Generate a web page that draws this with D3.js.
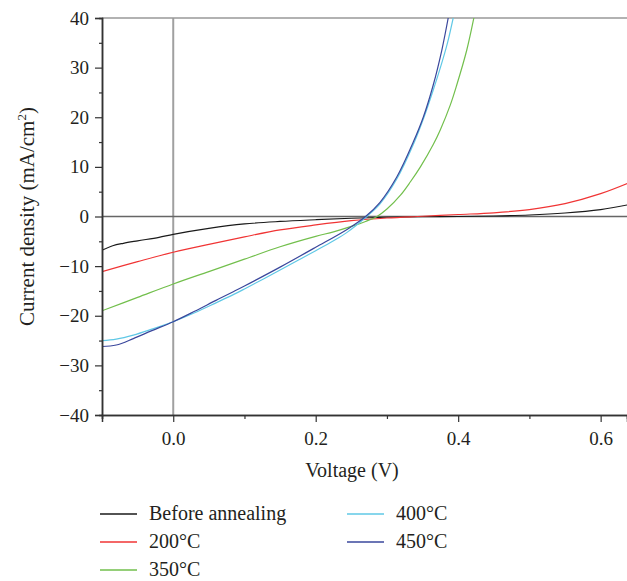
<!DOCTYPE html>
<html lang="en">
<head>
<meta charset="UTF-8">
<script src="https://d3js.org/d3.v7.min.js"></script>
<title></title>
<style>
	body { margin: 0; background: #fff; }
	text { font-family: "Liberation Serif", "Times New Roman", serif; fill: #231f20; }
</style>
</head>
<body>
<svg width="627" height="581"></svg>
<script>
	// J-V curves, [voltage (V), current density (mA/cm2)]
	var beforeAnnealing = [[-0.1,-6.8],[-0.085,-5.9],[-0.07,-5.4],[-0.05,-4.9],[-0.02,-4.2],[0,-3.6],[0.05,-2.4],[0.1,-1.5],[0.15,-1.0],[0.2,-0.65],[0.25,-0.35],[0.3,-0.15],[0.35,-0.05],[0.4,0],[0.45,0.1],[0.5,0.3],[0.55,0.7],[0.6,1.4],[0.64,2.4]];
	var t200 = [[-0.1,-11.1],[-0.05,-9.1],[0,-7.2],[0.05,-5.6],[0.1,-4.1],[0.15,-2.7],[0.2,-1.7],[0.25,-0.85],[0.3,-0.3],[0.35,0.05],[0.4,0.4],[0.45,0.75],[0.5,1.4],[0.55,2.6],[0.6,4.6],[0.64,6.8]];
	var t350 = [[-0.1,-19.0],[-0.05,-16.3],[0,-13.6],[0.05,-11.1],[0.1,-8.6],[0.15,-6.1],[0.2,-4.0],[0.225,-3.1],[0.25,-2.0],[0.27,-1.0],[0.286,0],[0.3,1.5],[0.319,4.3],[0.333,7],[0.347,10],[0.365,14.5],[0.375,17.5],[0.389,22.5],[0.398,26.5],[0.412,33.5],[0.422,40],[0.43,46]];
	var t400 = [[-0.1,-25.0],[-0.08,-24.7],[-0.056,-23.9],[-0.03,-22.7],[0,-21.2],[0.03,-19.4],[0.06,-17.4],[0.085,-15.7],[0.1,-14.6],[0.15,-10.8],[0.178,-8.6],[0.2,-6.9],[0.225,-4.9],[0.244,-3.2],[0.27,-0.2],[0.29,2.5],[0.314,7.6],[0.337,14.5],[0.352,20],[0.365,25.5],[0.375,30],[0.385,35],[0.393,40],[0.4,45]];
	var t450 = [[-0.1,-26.2],[-0.08,-25.9],[-0.056,-24.6],[-0.03,-23.0],[0,-21.2],[0.03,-19.1],[0.06,-16.9],[0.085,-15.1],[0.1,-14.0],[0.15,-10.2],[0.2,-6.2],[0.244,-2.6],[0.27,0],[0.29,2.8],[0.314,8.0],[0.337,15],[0.351,20],[0.365,26.5],[0.377,33.5],[0.386,40],[0.392,45]];

	var seriesNames = ["Before annealing", "200°C", "350°C", "400°C", "450°C"];
	var seriesData = [beforeAnnealing, t200, t350, t400, t450];
	var seriesColors = ["#1a1a1a", "#f03434", "#72bf4c", "#5fc8e6", "#3a479c"];

	var xTicks = [0.0, 0.2, 0.4, 0.6];
	var xMinorTicks = [-0.1, 0.1, 0.3, 0.5];
	var yTicks = [40, 30, 20, 10, 0, -10, -20, -30, -40];
	var yMinorTicks = [35, 25, 15, 5, -5, -15, -25, -35];

	var svg = d3.select('svg');
	var pLeft = 102, pRight = 627, pTop = 18, pBottom = 415;

	var x = d3.scaleLinear().domain([-0.1, 0.637]).range([pLeft, pRight]);
	var y = d3.scaleLinear().domain([-40, 40]).range([pBottom, pTop]);

	svg.append('defs').append('clipPath').attr('id', 'plot')
		.append('rect').attr('x', pLeft).attr('y', pTop).attr('width', pRight - pLeft).attr('height', pBottom - pTop);

	// zero lines
	svg.append('line')
		.attr('x1', x(0)).attr('x2', x(0)).attr('y1', pTop).attr('y2', pBottom)
		.attr('stroke', '#a0a0a0').attr('stroke-width', 2);
	svg.append('line')
		.attr('x1', pLeft).attr('x2', pRight).attr('y1', y(0)).attr('y2', y(0))
		.attr('stroke', '#666').attr('stroke-width', 1.5);

	// top frame
	svg.append('line')
		.attr('x1', pLeft).attr('x2', pRight).attr('y1', pTop).attr('y2', pTop)
		.attr('stroke', '#999').attr('stroke-width', 1.5);

	var line = d3.line()
		.x(function(d){ return x(d[0]); })
		.y(function(d){ return y(d[1]); })
		.curve(d3.curveCatmullRom.alpha(0.5));

	svg.append('g').attr('clip-path', 'url(#plot)')
		.selectAll('path')
		.data(seriesData)
		.enter()
		.append('path')
		.attr('d', line)
		.attr('fill', 'none')
		.attr('stroke', function(d, i){ return seriesColors[i]; })
		.attr('stroke-width', 1.2);

	// axes
	svg.append('g').attr('transform', 'translate(' + pLeft + ',0)')
		.call(d3.axisLeft(y).tickValues(yTicks).tickSize(7).tickPadding(6)
			.tickFormat(function(d){ return d < 0 ? '\u2212' + Math.abs(d) : d; }));
	svg.append('g').attr('transform', 'translate(' + pLeft + ',0)')
		.call(d3.axisLeft(y).tickValues(yMinorTicks).tickSize(3).tickFormat(''));

	svg.append('g').attr('transform', 'translate(0,' + pBottom + ')')
		.call(d3.axisBottom(x).tickValues(xTicks).tickSize(7).tickPadding(10).tickFormat(d3.format('.1f')));
	svg.append('g').attr('transform', 'translate(0,' + pBottom + ')')
		.call(d3.axisBottom(x).tickValues(xMinorTicks).tickSize(4).tickFormat(''));

	svg.selectAll('.domain').attr('stroke', '#333').attr('stroke-width', 1.5);
	svg.selectAll('.tick line').attr('stroke', '#333').attr('stroke-width', 1.2);
	svg.selectAll('.tick text').style('font-family', '"Liberation Serif", serif').style('font-size', '19px').attr('fill', '#231f20');

	// axis titles
	svg.append('text')
		.attr('x', 352).attr('y', 477)
		.attr('text-anchor', 'middle').style('font-size', '20px')
		.text('Voltage (V)');

	var yl = svg.append('text')
		.attr('transform', 'translate(34,' + (y(0)) + ') rotate(-90)')
		.attr('text-anchor', 'middle').style('font-size', '21px');
	yl.append('tspan').text('Current density (mA/cm');
	yl.append('tspan').attr('dy', -8).style('font-size', '13px').text('2');
	yl.append('tspan').attr('dy', 8).text(')');

	// legend
	var legendPos = [[100, 514], [100, 542], [100, 570], [347, 514], [347, 542]];
	var legend = svg.append('g').selectAll('g')
		.data(seriesNames)
		.enter()
		.append('g')
		.attr('transform', function(d, i){ return 'translate(' + legendPos[i][0] + ',' + legendPos[i][1] + ')'; });
	legend.append('line')
		.attr('x1', 0).attr('x2', 37).attr('y1', 0).attr('y2', 0)
		.attr('stroke', function(d, i){ return seriesColors[i]; })
		.attr('stroke-width', 1.5);
	legend.append('text')
		.attr('x', 49).attr('y', 6)
		.style('font-size', '20px')
		.text(function(d){ return d; });
</script>
</body>
</html>
